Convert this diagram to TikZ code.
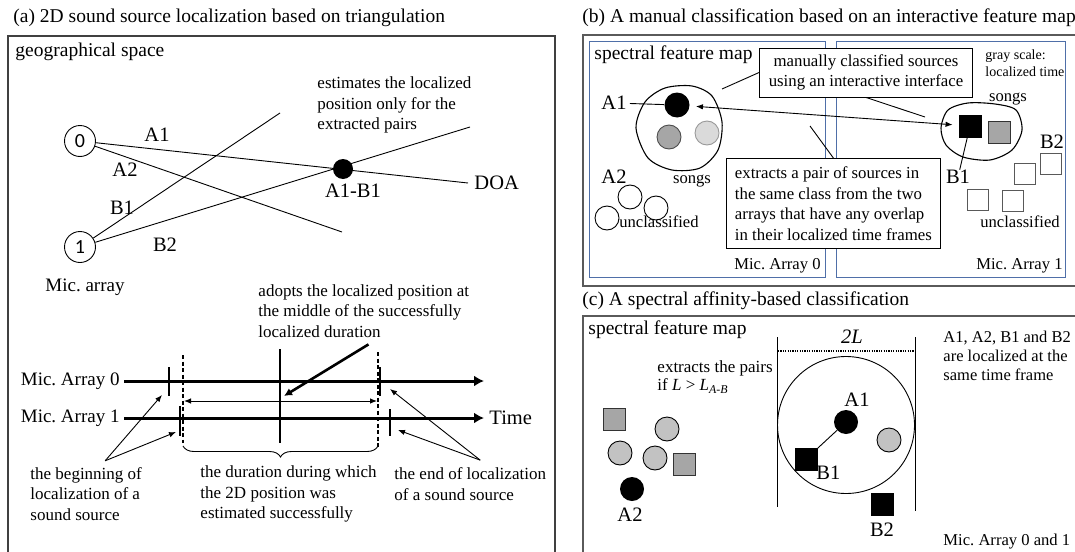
\documentclass[tikz,border=0pt]{standalone}
\usepackage{fontspec}
\setmainfont{Liberation Serif}
\newfontfamily\micfont{Carlito}
\frenchspacing
\usetikzlibrary{arrows.meta,decorations.pathreplacing}
\definecolor{framegray}{HTML}{5A5A5A}
\definecolor{mapblue}{HTML}{4F6FA8}
\definecolor{srcgray}{HTML}{A6A6A6}
\definecolor{srclight}{HTML}{C2C2C2}
\definecolor{srcpale}{HTML}{DADADA}
\tikzset{
	capfont/.style={inner sep=0pt, font=\fontsize{19.5}{23}\selectfont},
	annot/.style={inner sep=0pt, align=left, font=\fontsize{17}{20.7}\selectfont},
	lbl/.style={inner sep=0pt, font=\fontsize{20.5}{22}\selectfont},
	arrfont/.style={inner sep=0pt, font=\fontsize{19}{22}\selectfont},
	notefont/.style={inner sep=0pt, font=\fontsize{16.6}{19}\selectfont},
	scalefont/.style={inner sep=0pt, align=left, font=\fontsize{14}{17}\selectfont},
	mic/.style={circle, draw, minimum size=31pt, inner sep=0pt,
			font=\micfont\fontsize{20}{22}\selectfont},
	blackdot/.style={circle, fill=black, minimum size=24pt, inner sep=0pt},
	graydot/.style={circle, draw=black!70, fill=srcgray, minimum size=24pt, inner sep=0pt},
	lightdot/.style={circle, draw=black, fill=srclight, minimum size=24pt, inner sep=0pt},
	paledot/.style={circle, draw=black!40, fill=srcpale, minimum size=24pt, inner sep=0pt},
	opendot/.style={circle, draw, minimum size=24pt, inner sep=0pt},
	blacksq/.style={rectangle, draw, fill=black, minimum size=22pt, inner sep=0pt},
	graysq/.style={rectangle, draw=black!80, fill=srcgray, minimum size=22pt, inner sep=0pt},
	opensq/.style={rectangle, draw=black!65, minimum size=21pt, inner sep=0pt},
	callbox/.style={draw, fill=white, font=\fontsize{16.8}{20.5}\selectfont},
	panelframe/.style={draw=framegray, line width=1.6pt},
	mapframe/.style={draw=mapblue, line width=1pt},
	axisline/.style={line width=3pt, -{Latex[length=10pt,width=11pt]}},
	tickmark/.style={line width=2pt},
	cutline/.style={line width=1.1pt, dash pattern=on 4pt off 2.5pt},
	thinarrow/.style={line width=0.9pt, >={Latex[length=7pt,width=5.5pt]}},
	fatarrow/.style={line width=2.6pt, -{Latex[length=8pt,width=8pt]}},
	blob/.style={line width=1.1pt}
}

\begin{document}
\begin{tikzpicture}[x=1pt,y=-1pt,line width=0.9pt]
\useasboundingbox (0,0) rectangle (1075,551);

% (a) triangulation in the geographical space
\node[capfont, anchor=west] (capa) at (13,18) {(a) 2D sound source localization based on triangulation};
\draw[panelframe, draw=black!75] (8,560) |- (555,36) -- (555,560);
\node[capfont, anchor=west] (geo) at (15,52) {geographical space};

% microphone arrays and DOA lines
\node[mic] (mic0) at (80,141) {0};
\node[mic] (mic1) at (80,247) {1};
\coordinate (doaend) at (468,183);
\coordinate (a2end) at (342,232);
\coordinate (b1end) at (280,113);
\coordinate (b2end) at (470,127);
\draw (mic0) -- (doaend);
\draw (mic0) -- (a2end);
\draw (mic1) -- (b1end);
\draw (mic1) -- (b2end);
\node[blackdot, minimum size=20pt] (hit) at (343,169) {};
\node[lbl] (la1) at (157,135) {A1};
\node[lbl] (la2) at (125,170) {A2};
\node[lbl] (lb1) at (122,208) {B1};
\node[lbl] (lb2) at (165,245) {B2};
\node[lbl] (hitlbl) at (353,191) {A1-B1};
\node[lbl, anchor=west] (doa) at (474,183) {DOA};
\node[annot, anchor=west] (onlypairs) at (317,105) {estimates the localized\\position only for the\\extracted pairs};
\node[arrfont, anchor=west] (miclbl) at (45,287) {Mic. array};

% time lines of the two arrays
\node[arrfont, anchor=east, inner xsep=4pt] (arr0) at (124,381) {Mic. Array 0};
\node[arrfont, anchor=east, inner xsep=4pt] (arr1) at (124,418) {Mic. Array 1};
\node[lbl, anchor=west, inner xsep=5pt] (time) at (484,418) {Time};
\coordinate (t0end) at (484,381);
\draw[axisline] (arr0) -- (t0end);
\draw[axisline] (arr1) -- (time);

% localization marks
\draw[tickmark] (169,367) -- (169,396);
\draw[tickmark] (180,406) -- (180,436);
\draw[tickmark] (380,367) -- (380,396);
\draw[tickmark] (390,409) -- (390,436);
\draw[line width=2.6pt] (280,349) -- (280,443);
\draw[cutline] (183,355) -- (183,443);
\draw[cutline] (378,352) -- (378,447);

% successfully localized duration
\coordinate (durl) at (184,401);
\coordinate (durr) at (377,401);
\draw[thinarrow, <->] (durl) -- (durr);
\draw[decorate, decoration={brace, mirror, amplitude=11pt}] (183,446) -- (378,446);
\node[annot, anchor=west] (adopt) at (258,311) {adopts the localized position at\\the middle of the successfully\\localized duration};
\coordinate (midpt) at (284,396);
\draw[fatarrow, shorten <=12pt] ([xshift=15pt]adopt.south) -- (midpt);

% begin and end of localization
\node[annot, anchor=west] (begtxt) at (30,494) {the beginning of\\localization of a\\sound source};
\node[annot, anchor=west] (durtxt) at (200,494) {the duration during which\\the 2D position was\\estimated successfully};
\node[annot, anchor=west] (endtxt) at (394,484) {the end of localization\\of a sound source};
\coordinate (beg0) at (162,395);
\coordinate (beg1) at (176,432);
\coordinate (end0) at (390,389);
\coordinate (end1) at (398,430);
\draw[thinarrow, ->] ([shift={(19pt,6pt)}]begtxt.north) -- (beg0);
\draw[thinarrow, ->] ([shift={(19pt,6pt)}]begtxt.north) -- (beg1);
\draw[thinarrow, ->] ([shift={(10pt,7pt)}]endtxt.north) -- (end0);
\draw[thinarrow, ->] ([shift={(10pt,7pt)}]endtxt.north) -- (end1);

% (b) manual classification
\node[capfont, anchor=west] (capb) at (582,18) {(b) A manual classification based on an interactive feature map};
\draw[panelframe] (1078,35) -| (583,286) -- (1078,286);
\draw[mapframe] (589,42) rectangle (825,277);
\draw[mapframe] (836,42) rectangle (1065,277);
\node[capfont, anchor=west] (mapb) at (594,55) {spectral feature map};

% sources of array 0
\draw[blob] plot[smooth cycle] coordinates {(636,128) (645,102) (665,88) (692,86) (712,96) (722,122) (718,150) (700,168) (672,170) (648,158)};
\node[blackdot, minimum size=25pt] (a1b) at (677,105) {};
\node[graydot] (songb1) at (669,137) {};
\node[paledot] (songb2) at (707,133) {};
\node[lbl] (a1blbl) at (614,103) {A1};
\draw[shorten <=3pt] (a1blbl) -- (a1b);
\node[notefont] (songsb0) at (692,181) {songs};
\node[lbl] (a2blbl) at (614,177) {A2};
\node[opendot] (ub1) at (630,197) {};
\node[opendot] (ub2) at (656,208) {};
\node[opendot] (ub3) at (607,218) {};
\node[notefont] (uncl0) at (659,222) {unclassified};
\node[notefont, anchor=east] (arrb0) at (821,266) {Mic. Array 0};

% sources of array 1
\draw[blob] plot[smooth cycle] coordinates {(941,128) (948,110) (968,103) (995,104) (1016,110) (1022,130) (1012,150) (990,160) (963,157) (946,145)};
\node[blacksq] (b1sq) at (970,126) {};
\node[graysq] (songsq) at (999,132) {};
\node[lbl] (b1blbl) at (958,177) {B1};
\draw (b1sq) -- (b1blbl);
\node[lbl] (b2blbl) at (1052,142) {B2};
\node[opensq] (us1) at (1051,164) {};
\node[opensq] (us2) at (1025,174) {};
\node[opensq] (us3) at (978,200) {};
\node[opensq] (us4) at (1013,201) {};
\node[notefont] (uncl1) at (1020,222) {unclassified};
\node[notefont] (songsb1) at (1008,99) {songs};
\node[scalefont, anchor=west] (gscale) at (985,63.5) {gray scale:\\localized time};
\node[notefont, anchor=east] (arrb1) at (1063,266) {Mic. Array 1};

% pairing across the arrays
\draw[thinarrow, <->, shorten >=6pt, shorten <=6pt] (a1b) -- (b1sq);
\node[callbox, minimum width=213pt, minimum height=49pt, inner sep=0pt, align=center] (manbox) at (866,72.5) {manually classified sources\\using an interactive interface};
\coordinate (mantail) at (722,89);
\coordinate (mansongs) at (925,117);
\draw (manbox.west) -- (mantail);
\draw (manbox.south) -- (mansongs);
\node[callbox, anchor=north west, minimum height=90pt, inner ysep=0pt, inner xsep=8.5pt, align=left] (extbox) at (726,158) {extracts a pair of sources in\\the same class from the two\\arrays that have any overlap\\in their localized time frames};
\coordinate (exttail) at (810,126);
\draw (extbox.north) -- (exttail);

% (c) spectral affinity
\node[capfont, anchor=west] (capc) at (582,301) {(c) A spectral affinity-based classification};
\draw[panelframe] (1078,316) -| (583,560);
\node[capfont, anchor=west] (mapc) at (588,330) {spectral feature map};
\draw (777,337) -- (777,507);
\draw (915,337) -- (915,511);
\draw[line width=1.3pt, dash pattern=on 1.2pt off 1.2pt] (778,351) -- (914,351);
\node[lbl] (twol) at (852,337) {\textit{2L}};
\node[circle, draw, minimum size=137pt, inner sep=0pt] (zone) at (846,425) {};
\node[blackdot] (a1c) at (846,422) {};
\node[lbl] (a1clbl) at (857,400) {A1};
\node[lightdot] (gc) at (889,440) {};
\node[blacksq] (b1c) at (806,459) {};
\draw (a1c) -- (b1c);
\node[lbl, anchor=west] (b1clbl) at (816,473) {B1};
\node[blacksq] (b2c) at (882,504) {};
\node[lbl] (b2clbl) at (882,530) {B2};
\node[annot, anchor=west, font=\fontsize{17}{18.5}\selectfont] (pairtxt) at (657,377) {extracts the pairs\\if \textit{L} > \textit{L}\textsubscript{\textit{A-B}}};

% unpaired sources
\node[graysq] (cs1) at (614,419) {};
\node[lightdot] (cd1) at (667,429) {};
\node[lightdot] (cd2) at (620,453) {};
\node[lightdot] (cd3) at (655,458) {};
\node[graysq] (cs2) at (684,464) {};
\node[blackdot] (a2c) at (632,489) {};
\node[lbl] (a2clbl) at (630,515) {A2};
\node[annot, anchor=west, font=\fontsize{16.5}{19}\selectfont] (sametime) at (943,356) {A1, A2, B1 and B2\\are localized at the\\same time frame};
\node[notefont, anchor=west] (arrc) at (943,542) {Mic. Array 0 and 1};
\end{tikzpicture}
\end{document}
